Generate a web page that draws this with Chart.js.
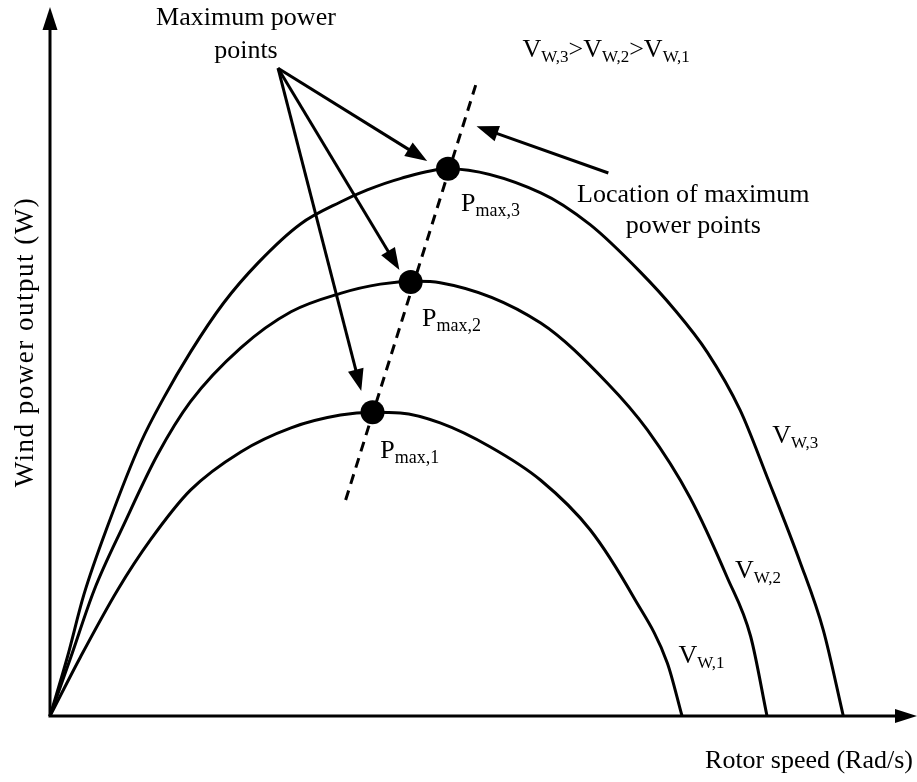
<!DOCTYPE html>
<html>
<head>
<meta charset="utf-8">
<script src="https://cdn.jsdelivr.net/npm/chart.js@4.4.1/dist/chart.umd.min.js"></script>
<style>
  html, body { margin: 0; padding: 0; background: #fff; }
  #wrap { width: 917px; height: 782px; }
</style>
</head>
<body>
<div id="wrap"><canvas id="mppChart" width="917" height="782"></canvas></div>
<script>
// Rotor speed / wind power (no ticks, so arbitrary units 0..100)
const speedW1 = [0, 3.5, 7.8, 11.6, 16.2, 22.0, 27.8, 33.5, 37.2, 40.4, 45.0, 50.8, 56.6, 62.3, 67.3, 71.2, 72.9];
const powerW1 = [0, 8.3, 17.8, 24.9, 31.9, 37.3, 40.7, 42.5, 42.9, 42.8, 41.4, 38.0, 33.3, 26.3, 16.8, 7.5, 0];

const speedW2 = [0, 2.4, 5.1, 8.5, 12.4, 16.2, 22.0, 27.8, 33.5, 38.1, 42.2, 45.0, 56.6, 64.3, 68.9, 73.8, 78.1, 80.8, 82.7];
const powerW2 = [0, 8.3, 17.8, 27.0, 36.9, 44.4, 52.0, 57.1, 59.7, 61.0, 61.4, 61.2, 55.5, 47.0, 40.4, 30.9, 19.6, 11.3, 0];

const speedW3 = [0, 2.0, 3.9, 6.7, 10.5, 13.1, 16.2, 20.0, 24.0, 28.9, 33.5, 36.6, 40.4, 45.9, 56.6, 62.3, 68.1, 71.9, 75.8, 79.6, 82.7, 86.5, 89.2, 91.5];
const powerW3 = [0, 8.3, 17.1, 27.0, 38.7, 44.9, 51.4, 58.3, 64.0, 69.5, 72.6, 74.3, 75.9, 77.3, 73.9, 69.4, 62.7, 57.6, 51.4, 43.2, 33.8, 21.8, 12.1, 0];

// maximum power points (Pmax,1 .. Pmax,3)
const mppSpeed = [37.2, 41.6, 45.9];
const mppPower = [42.9, 61.3, 77.3];

// dashed locus of the maximum power points (two ends)
const locusSpeed = [34.1, 49.1];
const locusPower = [30.5, 89.1];

const curveNames = ['W,1', 'W,2', 'W,3'];
const mppNames = ['max,1', 'max,2', 'max,3'];

const pts = (xs, ys) => xs.map((v, i) => ({ x: v, y: ys[i] }));

// annotations (data units)
const calloutFrom = { x: 26.3, y: 91.5 };
const calloutTips = [{ x: 35.9, y: 45.9 }, { x: 40.3, y: 63.0 }, { x: 43.5, y: 78.4 }];
const locusArrow = { from: { x: 64.4, y: 76.7 }, to: { x: 49.2, y: 83.3 } };
const mppLabelAt = [{ x: 38.1, y: 36.4 }, { x: 42.9, y: 55.1 }, { x: 47.4, y: 71.3 }];
const curveLabelAt = [{ x: 72.5, y: 7.5 }, { x: 79.0, y: 19.5 }, { x: 83.3, y: 38.6 }];

const FONT = '"Liberation Serif", "Times New Roman", serif';

function arrow(ctx, x0, y0, x1, y1, len, half) {
    const a = Math.atan2(y1 - y0, x1 - x0);
    const c = Math.cos(a), s = Math.sin(a);
    const bx = x1 - c * len, by = y1 - s * len;
    ctx.beginPath();
    ctx.moveTo(x0, y0);
    ctx.lineTo(bx + c * 3, by + s * 3);
    ctx.stroke();
    ctx.beginPath();
    ctx.moveTo(x1, y1);
    ctx.lineTo(bx + s * half, by - c * half);
    ctx.lineTo(bx - s * half, by + c * half);
    ctx.closePath();
    ctx.fill();
}

// draws e.g. V with subscript W,1 ; parts = [[main, sub], ...]
function subText(ctx, x, y, parts, big, small) {
    let cx = x;
    ctx.textAlign = 'left';
    parts.forEach(p => {
        ctx.font = big + 'px ' + FONT;
        ctx.fillText(p[0], cx, y);
        cx += ctx.measureText(p[0]).width;
        ctx.font = small + 'px ' + FONT;
        ctx.fillText(p[1], cx, y + 5);
        cx += ctx.measureText(p[1]).width;
    });
}

const sketchPlugin = {
    id: 'sketch',
    afterDatasetsDraw(chart) {
        const { ctx, chartArea: area, scales } = chart;
        const px = v => scales.x.getPixelForValue(v);
        const py = v => scales.y.getPixelForValue(v);
        ctx.save();
        ctx.strokeStyle = '#000';
        ctx.fillStyle = '#000';
        ctx.lineWidth = 3;
        ctx.lineCap = 'butt';

        // axes with arrow heads
        arrow(ctx, area.left - 1.5, area.bottom, area.right, area.bottom, 22, 7);
        arrow(ctx, area.left, area.bottom, area.left, area.top - 1, 23, 7.5);

        // callout arrows
        calloutTips.forEach(t => arrow(ctx, px(calloutFrom.x), py(calloutFrom.y), px(t.x), py(t.y), 22, 8));
        arrow(ctx, px(locusArrow.from.x), py(locusArrow.from.y), px(locusArrow.to.x), py(locusArrow.to.y), 22, 8);

        ctx.textBaseline = 'alphabetic';
        ctx.font = '26px ' + FONT;
        ctx.textAlign = 'center';
        ctx.fillText('Maximum power', px(22.6), py(97.6));
        ctx.fillText('points', px(22.6), py(92.9));
        ctx.fillText('Location of maximum', px(74.2), py(72.6));
        ctx.fillText('power points', px(74.2), py(68.2));

        subText(ctx, px(54.5), py(93.1), [['V', 'W,3'], ['>V', 'W,2'], ['>V', 'W,1']], 26, 17);

        mppLabelAt.forEach((p, i) => subText(ctx, px(p.x), py(p.y), [['P', mppNames[i]]], 26, 18));
        curveLabelAt.forEach((p, i) => subText(ctx, px(p.x), py(p.y), [['V', curveNames[i]]], 26, 17));

        // axis titles
        ctx.font = '26px ' + FONT;
        ctx.textAlign = 'right';
        ctx.fillText('Rotor speed (Rad/s)', area.right - 4, area.bottom + 52);
        ctx.save();
        ctx.translate(area.left - 17, 342);
        ctx.rotate(-Math.PI / 2);
        ctx.font = '27px ' + FONT;
        ctx.letterSpacing = '1.5px';
        ctx.textAlign = 'center';
        ctx.fillText('Wind power output (W)', 0, 0);
        ctx.restore();

        ctx.restore();
    }
};

const curveStyle = {
    borderColor: '#000',
    borderWidth: 3,
    pointRadius: 0,
    fill: false,
    cubicInterpolationMode: 'monotone',
    clip: false,
    order: 2
};

new Chart(document.getElementById('mppChart').getContext('2d'), {
    type: 'line',
    data: {
        datasets: [
            {
                label: 'Pmax',
                data: pts(mppSpeed, mppPower),
                pointRadius: 12,
                pointBackgroundColor: '#000',
                pointBorderWidth: 0,
                showLine: false,
                clip: false,
                order: 0
            },
            {
                label: 'locus',
                data: pts(locusSpeed, locusPower),
                borderColor: '#000',
                borderWidth: 3,
                borderDash: [10, 7],
                pointRadius: 0,
                clip: false,
                order: 1
            },
            { label: 'V_W,1', data: pts(speedW1, powerW1), ...curveStyle },
            { label: 'V_W,2', data: pts(speedW2, powerW2), ...curveStyle },
            { label: 'V_W,3', data: pts(speedW3, powerW3), ...curveStyle }
        ]
    },
    options: {
        responsive: false,
        animation: false,
        layout: { autoPadding: false, padding: { left: 50, right: 0, top: 8, bottom: 66 } },
        plugins: {
            legend: { display: false },
            tooltip: { enabled: false }
        },
        scales: {
            x: { type: 'linear', min: 0, max: 100, display: false },
            y: { type: 'linear', min: 0, max: 100, display: false }
        }
    },
    plugins: [sketchPlugin]
});
</script>
</body>
</html>
